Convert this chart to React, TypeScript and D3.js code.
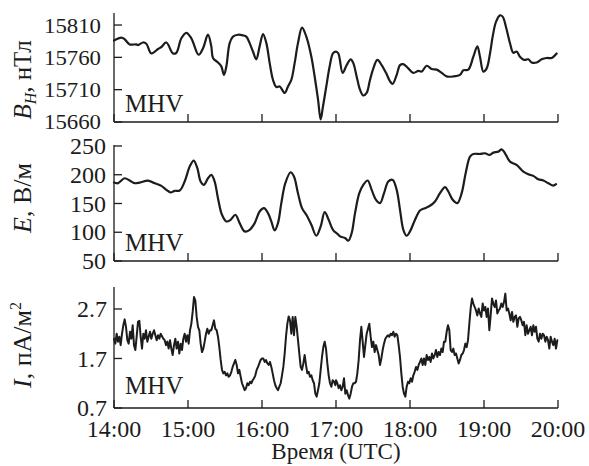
import React from "react";
import * as d3 from "d3";

const HOUR_TICKS = [0, 1, 2, 3, 4, 5, 6];
const HOUR_LABELS = ["14:00", "15:00", "16:00", "17:00", "18:00", "19:00", "20:00"];
const BH_TICKS = [15660, 15710, 15760, 15810];
const E_TICKS = [50, 100, 150, 200, 250];
const I_TICKS = [0.7, 1.7, 2.7];

// B_H, hours after 14:00 UTC
const BH_T = [
  0, 0.099, 0.144, 0.212, 0.302, 0.324, 0.392, 0.437, 0.505, 0.595,
  0.64, 0.707, 0.797, 0.842, 0.91, 0.977, 1.045, 1.144, 1.203, 1.27,
  1.315, 1.338, 1.405, 1.45, 1.486, 1.518, 1.563, 1.608, 1.676, 1.743,
  1.788, 1.833, 1.878, 1.923, 1.968, 2.014, 2.059, 2.104, 2.149, 2.194,
  2.239, 2.306, 2.351, 2.396, 2.441, 2.486, 2.541, 2.599, 2.667, 2.712,
  2.757, 2.793, 2.824, 2.869, 2.914, 2.959, 3.0,
  3.032, 3.09, 3.144, 3.198, 3.234, 3.279, 3.324, 3.369, 3.414, 3.459,
  3.505, 3.559, 3.617, 3.676, 3.73, 3.766, 3.82, 3.865, 3.91, 3.977,
  4.045, 4.113, 4.158, 4.225, 4.293, 4.36, 4.428, 4.495, 4.586, 4.676,
  4.721, 4.788, 4.856, 4.91, 4.946, 4.991, 5.036, 5.081, 5.117, 5.162,
  5.216, 5.252, 5.297, 5.351, 5.396, 5.441, 5.486, 5.541, 5.599, 5.644,
  5.712, 5.779, 5.847, 5.914, 5.982,
];
const BH_V = [
  15786, 15790.5, 15788, 15780, 15780, 15779, 15783, 15781, 15766, 15773,
  15776, 15783, 15766, 15767, 15789.5, 15798, 15789.5, 15764, 15774, 15795,
  15777, 15759, 15752, 15746, 15733, 15746, 15782, 15792, 15795, 15794,
  15792, 15782, 15769, 15757, 15777, 15796, 15782, 15751, 15725, 15714,
  15715, 15705, 15715, 15725, 15751, 15782, 15806, 15792, 15761, 15730,
  15695, 15664, 15684, 15715, 15746, 15766, 15769,
  15766, 15736, 15748, 15757, 15751, 15730.5, 15710, 15701, 15705, 15725,
  15743, 15756, 15748, 15736, 15723, 15719, 15733, 15748, 15749.5, 15743,
  15736, 15739, 15738, 15747, 15742, 15741, 15736, 15730.5, 15730.5, 15733,
  15740, 15741, 15761, 15777, 15761, 15738, 15743, 15766, 15792, 15815,
  15825, 15823, 15807, 15782, 15767, 15769, 15761, 15756, 15757, 15752,
  15752, 15757, 15759, 15759, 15766,
];

// E, hours after 14:00 UTC
const E_T = [
  0, 0.054, 0.144, 0.212, 0.279, 0.347, 0.459, 0.55, 0.64, 0.707,
  0.766, 0.82, 0.887, 0.955, 1.023, 1.077, 1.126, 1.171, 1.216, 1.27,
  1.315, 1.36, 1.405, 1.459, 1.518, 1.577, 1.64, 1.698, 1.766, 1.833,
  1.901, 1.968, 2.027, 2.081, 2.126, 2.171, 2.216, 2.261, 2.315, 2.387,
  2.432, 2.486, 2.541, 2.599, 2.667, 2.734, 2.793, 2.847, 2.901, 2.959,
  3.018,
  3.054, 3.122, 3.167, 3.212, 3.257, 3.315, 3.369, 3.428, 3.482, 3.541,
  3.595, 3.649, 3.707, 3.766, 3.82, 3.865, 3.91, 3.955, 4.0, 4.068,
  4.135, 4.203, 4.27, 4.338, 4.405, 4.473, 4.518, 4.577, 4.64, 4.698,
  4.752, 4.811, 4.856, 4.946, 5.014, 5.072, 5.126, 5.194, 5.239, 5.284,
  5.351, 5.441, 5.532, 5.599, 5.667, 5.734, 5.802, 5.869, 5.937, 5.973,
];
const E_V = [
  186.4, 185.3, 193.9, 189.9, 185.3, 186.4, 189.9, 185.3, 180.6, 173.7,
  169.1, 172.0, 172.5, 188.2, 214.2, 224.6, 211.3, 188.2, 182.4, 193.9,
  199.7, 188.2, 159.3, 130.4, 118.8, 121.7, 130.4, 115.9, 101.5, 104.3,
  115.9, 136.1, 141.9, 133.2, 118.8, 103.2, 115.9, 150.6, 185.3, 204.3,
  196.8, 167.9, 141.9, 130.4, 113.0, 93.9, 110.1, 135.0, 121.7, 104.3,
  97.4,
  92.8, 89.9, 85.3, 98.6, 133.2, 167.9, 182.4, 189.9, 173.7, 156.4,
  150.6, 167.9, 188.2, 191.0, 173.7, 139.0, 104.3, 93.9, 101.5, 121.7,
  137.9, 141.9, 146.0, 153.5, 167.9, 178.3, 170.8, 156.4, 150.6, 167.9,
  202.6, 231.5, 236.1, 236.1, 237.3, 234.4, 238.4, 240.2, 244.2, 237.3,
  222.8, 217.1, 205.5, 200.9, 198.0, 192.2, 189.9, 185.3, 181.2, 183.5,
];

// I, uniformly sampled; segment A starts at 14:00, segment B at 17:00
const I_STEP_H = 4 / 222;
const I_A_START = 0;
const I_B_START = 3;
const I_A = [
  2.10, 2.00, 2.20, 2.04, 2.14, 1.97, 2.20, 2.37, 2.49, 2.34,
  2.07, 2.00, 2.24, 2.10, 2.37, 1.97, 1.87, 2.14, 2.44, 2.46,
  2.14, 1.90, 2.20, 2.10, 2.27, 2.04, 2.14, 2.24, 2.10, 2.20,
  2.27, 2.17, 2.07, 2.17, 2.10, 2.20, 2.15, 2.10, 2.07, 1.97,
  2.04, 1.90, 2.07, 1.90, 1.77, 1.97, 2.10, 1.90, 2.04, 1.80,
  2.00, 1.87, 2.10, 2.20, 2.04, 2.17, 2.00, 2.27, 2.40, 2.64,
  2.94, 2.87, 2.54, 2.34, 2.27, 2.00, 1.83, 1.90, 2.04, 2.20,
  2.30, 2.20, 2.27, 2.27, 2.37, 2.47, 2.30, 2.27, 2.14, 1.93,
  1.67, 1.47, 1.40, 1.43, 1.36, 1.40, 1.33, 1.36, 1.43, 1.53,
  1.60, 1.67, 1.57, 1.40, 1.47, 1.33, 1.20, 1.13, 1.06, 1.10,
  1.20, 1.16, 1.23, 1.20, 1.26, 1.30, 1.36, 1.47, 1.53, 1.60,
  1.67, 1.70, 1.70, 1.63, 1.67, 1.60, 1.57, 1.63, 1.53, 1.40,
  1.26, 1.16, 1.10, 1.06, 1.13, 1.20, 1.36, 1.53, 1.80, 2.14,
  2.40, 2.55, 2.47, 2.20, 2.54, 2.17, 2.54, 2.34, 2.07, 1.80,
  1.53, 1.47, 1.60, 1.77, 1.57, 1.40, 1.43, 1.33, 1.36, 1.26,
  1.20, 0.99, 0.93, 1.06, 1.20, 1.47, 1.73, 1.93, 2.04, 1.90,
  1.60, 1.36, 1.20, 1.13, 1.26, 1.23, 1.16,
];
const I_B = [
  1.26, 1.20, 1.10, 1.16, 1.06, 1.13, 1.30, 0.99, 1.06, 0.96,
  0.89, 0.99, 1.13, 1.20, 1.20, 1.23, 1.40, 1.67, 2.07, 2.34,
  2.04, 1.73, 1.97, 2.20, 2.30, 2.40, 2.14, 1.93, 2.04, 1.83,
  1.97, 1.87, 1.77, 1.57, 1.70, 1.87, 2.00, 2.10, 2.14, 2.17,
  2.14, 2.20, 2.17, 2.24, 2.14, 2.20, 2.17, 1.97, 1.73, 1.40,
  1.13, 0.99, 0.93, 1.13, 1.23, 1.20, 1.30, 1.23, 1.36, 1.43,
  1.53, 1.47, 1.57, 1.63, 1.70, 1.57, 1.70, 1.57, 1.77, 1.67,
  1.73, 1.63, 1.80, 1.70, 1.77, 1.87, 1.73, 1.83, 1.77, 1.90,
  1.83, 2.04, 2.04, 2.24, 2.37, 2.27, 1.87, 1.83, 1.90, 1.77,
  1.80, 1.70, 1.60, 1.67, 1.77, 1.80, 1.87, 2.00, 1.93, 2.07,
  2.40, 2.71, 2.91, 2.81, 2.74, 2.67, 2.57, 2.71, 2.61, 2.54,
  2.81, 2.67, 2.74, 2.54, 2.71, 2.27, 2.57, 2.91, 2.81, 2.74,
  2.87, 2.61, 2.67, 2.71, 2.81, 2.74, 2.84, 3.01, 2.67, 2.71,
  2.61, 2.47, 2.64, 2.44, 2.54, 2.57, 2.34, 2.51, 2.54, 2.47,
  2.37, 2.44, 2.17, 2.37, 2.20, 2.27, 2.34, 2.17, 2.37, 2.24,
  2.34, 2.10, 2.04, 2.20, 2.10, 2.20, 2.17, 2.04, 2.14, 2.07,
  1.90, 2.14, 2.04, 1.97, 2.10, 1.90, 2.07,
];

const FONT =
  '"Liberation Serif", "Tinos", "Times New Roman", "Nimbus Roman", "FreeSerif", "Noto Serif", "DejaVu Serif", "Times", serif';
const INK = "#1c1c1c";

export default function App() {
  const x = d3.scaleLinear().domain([0, 6]).range([114, 558]);

  const iData: [number, number][] = [
    ...I_A.map((v, i) => [I_A_START + i * I_STEP_H, v] as [number, number]),
    ...I_B.map((v, i) => [I_B_START + i * I_STEP_H, v] as [number, number]),
  ];

  const panels = [
    {
      key: "bh",
      y: d3.scaleLinear().domain([15660, 15828.6]).range([122, 13]),
      ticks: BH_TICKS,
      fmt: (d: number) => String(d),
      data: d3.zip(BH_T, BH_V) as [number, number][],
      curve: d3.curveCatmullRom.alpha(0.5),
      labelRight: 101,
      labelLen: 57,
      labelSize: 22,
      mhvY: 111.5,
      width: 2.2,
    },
    {
      key: "e",
      y: d3.scaleLinear().domain([50, 251.7]).range([261, 145]),
      ticks: E_TICKS,
      fmt: (d: number) => String(d),
      data: d3.zip(E_T, E_V) as [number, number][],
      curve: d3.curveCatmullRom.alpha(0.5),
      labelRight: 106,
      labelLen: 0,
      labelSize: 24,
      mhvY: 250.5,
      width: 2.2,
    },
    {
      key: "i",
      y: d3.scaleLinear().domain([0.7, 3.144]).range([408, 287]),
      ticks: I_TICKS,
      fmt: (d: number) => d.toFixed(1),
      data: iData,
      curve: d3.curveLinear,
      labelRight: 107,
      labelLen: 0,
      labelSize: 24,
      mhvY: 394,
      width: 2.0,
    },
  ];

  const textStyle = { fontFamily: FONT };

  return (
    <svg
      width={589}
      height={466}
      viewBox="0 0 589 466"
      style={{ position: "absolute", left: 0, top: 0, background: "#fff", fontFamily: FONT }}
    >
      <rect x={0} y={0} width={589} height={466} fill="#fff" />
      {panels.map((p) => {
        const [y0, y1] = p.y.range();
        const line = d3
          .line<[number, number]>()
          .x((d) => x(d[0]))
          .y((d) => p.y(d[1]))
          .curve(p.curve);
        return (
          <g key={p.key}>
            <line x1={x(0)} x2={x(0)} y1={y0} y2={y1} stroke={INK} strokeWidth={1.3} />
            <line x1={x(0)} x2={x(6)} y1={y0} y2={y0} stroke={INK} strokeWidth={1.3} />
            {HOUR_TICKS.map((h) => (
              <line key={h} x1={x(h)} x2={x(h)} y1={y0} y2={y0 - 8} stroke={INK} strokeWidth={1.3} />
            ))}
            {p.ticks.map((t) => (
              <g key={t}>
                <line x1={x(0)} x2={x(0) + 8} y1={p.y(t)} y2={p.y(t)} stroke={INK} strokeWidth={1.3} />
                <text
                  x={p.labelRight}
                  y={p.y(t)}
                  dy="0.34em"
                  textAnchor="end"
                  fontSize={p.labelSize}
                  fill={INK}
                  style={textStyle}
                  {...(p.labelLen ? { textLength: p.labelLen, lengthAdjust: "spacingAndGlyphs" } : {})}
                >
                  {p.fmt(t)}
                </text>
              </g>
            ))}
            <path
              d={line(p.data) || ""}
              fill="none"
              stroke={INK}
              strokeWidth={p.width}
              strokeLinejoin="round"
              strokeLinecap="round"
            />
            <text x={125} y={p.mhvY} fontSize={25} fill={INK} style={textStyle}>
              MHV
            </text>
          </g>
        );
      })}

      {/* y axis titles */}
      <text transform="translate(31,80) rotate(-90)" textAnchor="middle" fontSize={25} fill={INK} style={textStyle}>
        <tspan fontStyle="italic">B</tspan>
        <tspan fontStyle="italic" fontSize={16} dy={5}>H</tspan>
        <tspan dy={-5}>, нТл</tspan>
      </text>
      <text transform="translate(31,198) rotate(-90)" textAnchor="middle" fontSize={26} fill={INK} style={textStyle}>
        <tspan fontStyle="italic">E</tspan>
        <tspan>, В/м</tspan>
      </text>
      <text transform="translate(31,345) rotate(-90)" textAnchor="middle" fontSize={26} fill={INK} style={textStyle}>
        <tspan fontStyle="italic">I</tspan>
        <tspan>, пА/м</tspan>
        <tspan fontSize={16} dy={-10}>2</tspan>
      </text>

      {/* x tick labels */}
      {HOUR_TICKS.map((h, i) => (
        <text key={h} x={x(h)} y={437} textAnchor="middle" fontSize={24} fill={INK} style={textStyle}>
          {HOUR_LABELS[i]}
        </text>
      ))}
      <text x={336} y={459} textAnchor="middle" fontSize={23} fill={INK} style={textStyle}>
        Время (UTC)
      </text>
    </svg>
  );
}
